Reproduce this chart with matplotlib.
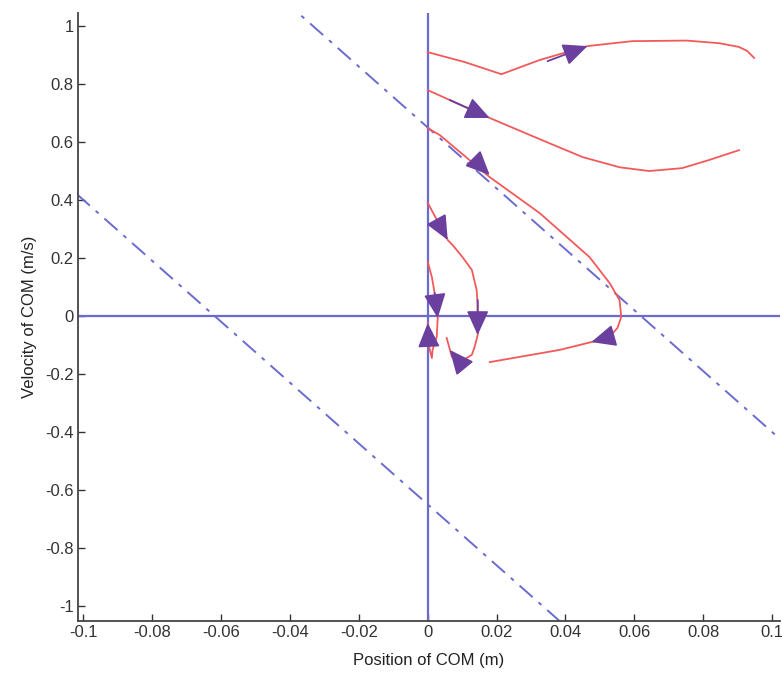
import matplotlib
matplotlib.use("Agg")
import matplotlib.pyplot as plt

plt.rcParams['font.family'] = ['Liberation Sans', 'DejaVu Sans']

# trajectories (position m, velocity m/s)
traj1_x = [0, 0.0107, 0.0214, 0.0325, 0.0464, 0.0594, 0.0751, 0.0846, 0.0904, 0.0928, 0.0948]
traj1_v = [0.910, 0.876, 0.834, 0.883, 0.931, 0.948, 0.950, 0.941, 0.928, 0.914, 0.890]

traj2_x = [0, 0.018, 0.0325, 0.045, 0.0557, 0.0643, 0.0739, 0.0817, 0.0904]
traj2_v = [0.779, 0.683, 0.610, 0.548, 0.513, 0.500, 0.510, 0.538, 0.572]

traj3_x = [0, 0.0035, 0.018, 0.0325, 0.047, 0.0528, 0.0557, 0.0562, 0.0551, 0.0528, 0.0475, 0.0383, 0.018]
traj3_v = [0.648, 0.624, 0.479, 0.355, 0.203, 0.114, 0.055, -0.003, -0.041, -0.072, -0.090, -0.117, -0.159]

traj4_x = [0, 0.0058, 0.0072, 0.0101, 0.0128, 0.0142, 0.0145, 0.0145, 0.0136, 0.0128, 0.0093, 0.0070, 0.0055]
traj4_v = [0.390, 0.262, 0.245, 0.203, 0.159, 0.090, 0.038, -0.066, -0.107, -0.134, -0.159, -0.141, -0.076]

traj5_x = [0, 0.0012, 0.002, 0.0029, 0.0026, 0.0014, 0.0012, 0.0006, 0.0003, 0]
traj5_v = [0.186, 0.134, 0.079, -0.007, -0.072, -0.117, -0.145, -0.117, -0.093, -0.024]

# direction arrows: tail -> tip
arrow_tail_x = [0.0348, 0.0064, 0.0136, 0.0026, 0.0145, 0.0093, 0.002, 0.0003, 0.0528]
arrow_tail_v = [0.879, 0.745, 0.538, 0.331, 0.055, -0.159, 0.079, -0.100, -0.072]
arrow_tip_x = [0.0464, 0.018, 0.018, 0.0058, 0.0145, 0.0064, 0.0029, 0.0, 0.0475]
arrow_tip_v = [0.931, 0.683, 0.486, 0.262, -0.066, -0.117, -0.007, -0.024, -0.090]

# capture point boundaries  v = -w*x +/- c
omega = 10.5
c0 = 0.65
line_x = [-0.11, 0.11]

x_ticks = [-0.1, -0.08, -0.06, -0.04, -0.02, 0, 0.02, 0.04, 0.06, 0.08, 0.1]
x_labels = ['-0.1', '-0.08', '-0.06', '-0.04', '-0.02', '0', '0.02', '0.04', '0.06', '0.08', '0.1']
y_ticks = [-1, -0.8, -0.6, -0.4, -0.2, 0, 0.2, 0.4, 0.6, 0.8, 1]
y_labels = ['-1', '-0.8', '-0.6', '-0.4', '-0.2', '0', '0.2', '0.4', '0.6', '0.8', '1']

blue = '#6b6bcf'
red = '#f25a5a'
purple = '#6a3f9e'

fig = plt.figure(figsize=(7.82, 6.75), dpi=100)
ax = fig.add_axes([0.0997, 0.08, 0.8977, 0.9007])

ax.axhline(0, color=blue, lw=1.6)
ax.axvline(0, color=blue, lw=1.6)
for c in (c0, -c0):
    ax.plot(line_x, [-omega * x + c for x in line_x], color=blue, lw=1.4, dashes=(9, 4, 2, 4))

for tx, tv in [(traj1_x, traj1_v), (traj2_x, traj2_v), (traj3_x, traj3_v),
               (traj4_x, traj4_v), (traj5_x, traj5_v)]:
    ax.plot(tx, tv, color=red, lw=1.3)

for i in range(len(arrow_tip_x)):
    ax.annotate('', xy=(arrow_tip_x[i], arrow_tip_v[i]),
                xytext=(arrow_tail_x[i], arrow_tail_v[i]),
                arrowprops=dict(arrowstyle='-|>,head_length=1.0,head_width=0.45',
                                mutation_scale=15, color=purple, lw=1.3,
                                shrinkA=0, shrinkB=0))

ax.set_xlim(-0.1016, 0.1023)
ax.set_ylim(-1.052, 1.045)
ax.set_xticks(x_ticks)
ax.set_xticklabels(x_labels)
ax.set_yticks(y_ticks)
ax.set_yticklabels(y_labels)
ax.tick_params(direction='in', length=5, width=1, labelsize=12, colors='#333333', pad=3)
for s in ('top', 'right'):
    ax.spines[s].set_visible(False)
for s in ('left', 'bottom'):
    ax.spines[s].set_linewidth(1.3)
    ax.spines[s].set_color('#444444')

ax.set_xlabel('Position of COM (m)', fontsize=12, color='#222222', labelpad=9)
ax.set_ylabel('Velocity of COM (m/s)', fontsize=12, color='#222222', labelpad=6)

fig.savefig('out.png', dpi=100)
